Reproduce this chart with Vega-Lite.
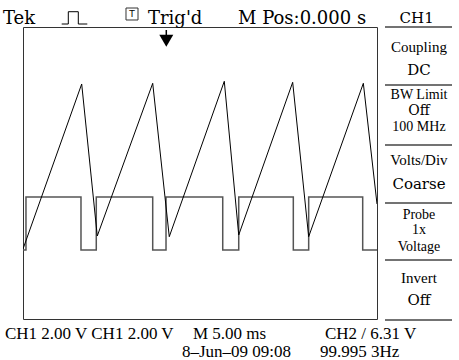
{
  "$schema": "https://vega.github.io/schema/vega-lite/v6.json",
  "width": 354,
  "height": 292,
  "autosize": {"type": "none"},
  "padding": {"left": 23, "top": 27, "right": 82, "bottom": 41},
  "background": "white",
  "config": {"view": {"stroke": "#333", "strokeWidth": 1}},
  "datasets": {
    "saw": [
      {"t": -25, "v": -4.164},
      {"t": -16.71, "v": 4.877},
      {"t": -14.51, "v": -3.452},
      {"t": -6.68, "v": 4.915},
      {"t": -4.34, "v": -3.49},
      {"t": 3.43, "v": 5.025},
      {"t": 5.47, "v": -3.397},
      {"t": 13.09, "v": 4.97},
      {"t": 15.35, "v": -3.49},
      {"t": 23.07, "v": 4.915},
      {"t": 25, "v": -1.699}
    ],
    "square": [
      {"i": 0, "t": -25, "v": -4.219},
      {"i": 1, "t": -24.58, "v": -4.219},
      {"i": 2, "t": -24.58, "v": -1.315},
      {"i": 3, "t": -16.81, "v": -1.315},
      {"i": 4, "t": -16.81, "v": -4.219},
      {"i": 5, "t": -14.65, "v": -4.219},
      {"i": 6, "t": -14.65, "v": -1.315},
      {"i": 7, "t": -6.68, "v": -1.315},
      {"i": 8, "t": -6.68, "v": -4.219},
      {"i": 9, "t": -4.8, "v": -4.219},
      {"i": 10, "t": -4.8, "v": -1.315},
      {"i": 11, "t": 3.21, "v": -1.315},
      {"i": 12, "t": 3.21, "v": -4.219},
      {"i": 13, "t": 5.47, "v": -4.219},
      {"i": 14, "t": 5.47, "v": -1.315},
      {"i": 15, "t": 13.18, "v": -1.315},
      {"i": 16, "t": 13.18, "v": -4.219},
      {"i": 17, "t": 15.35, "v": -4.219},
      {"i": 18, "t": 15.35, "v": -1.315},
      {"i": 19, "t": 22.98, "v": -1.315},
      {"i": 20, "t": 22.98, "v": -4.219},
      {"i": 21, "t": 25, "v": -4.219}
    ],
    "pulse": [
      {"i": 0, "t": -19.534, "v": 8.164},
      {"i": 1, "t": -18.602, "v": 8.164},
      {"i": 2, "t": -18.602, "v": 8.838},
      {"i": 3, "t": -17.189, "v": 8.838},
      {"i": 4, "t": -17.189, "v": 8.164},
      {"i": 5, "t": -15.918, "v": 8.164}
    ],
    "topText": [
      {"label": "Tek", "t": -27.825, "v": 8.164},
      {"label": "Trig'd", "t": -7.345, "v": 8.164},
      {"label": "M Pos:0.000 s", "t": 5.367, "v": 8.164}
    ],
    "seps": [
      {"t": 26.129, "t2": 35.593, "v": 8.0},
      {"t": 26.129, "t2": 35.593, "v": 4.822},
      {"t": 26.129, "t2": 35.593, "v": 1.534},
      {"t": 26.129, "t2": 35.593, "v": -1.644},
      {"t": 26.129, "t2": 35.593, "v": -4.767},
      {"t": 26.129, "t2": 35.593, "v": -8.055}
    ],
    "menuNarrow": [
      {"label": "Coupling", "t": 30.932, "v": 6.63},
      {"label": "Volts/Div", "t": 30.932, "v": 0.438},
      {"label": "Invert", "t": 30.932, "v": -6.027}
    ],
    "menuStack": [
      {"label": "BW Limit", "t": 30.932, "v": 4.055},
      {"label": "100 MHz", "t": 30.932, "v": 2.301},
      {"label": "Probe", "t": 30.932, "v": -2.521},
      {"label": "1x", "t": 30.932, "v": -3.342},
      {"label": "Voltage", "t": 30.932, "v": -4.274}
    ],
    "menuStackWide": [
      {"label": "Off", "t": 30.932, "v": 3.178}
    ],
    "menuWide": [
      {"label": "CH1", "t": 30.6, "v": 8.219},
      {"label": "DC", "t": 30.932, "v": 5.37},
      {"label": "Coarse", "t": 30.932, "v": -0.877},
      {"label": "Off", "t": 30.932, "v": -7.233}
    ],
    "bottomText": [
      {"label": "CH1 2.00 V CH1 2.00 V", "t": -27.542, "v": -9.096},
      {"label": "M 5.00 ms", "t": -0.989, "v": -9.096},
      {"label": "CH2 / 6.31 V", "t": 17.654, "v": -9.096},
      {"label": "8–Jun–09 09:08", "t": -2.543, "v": -10.055},
      {"label": "99.995 3Hz", "t": 16.949, "v": -10.055}
    ]
  },
  "layer": [
    {
      "data": {"name": "square"},
      "mark": {"type": "line", "stroke": "#555", "strokeWidth": 1.5, "clip": true},
      "encoding": {
        "x": {"field": "t", "type": "quantitative", "scale": {"domain": [-25, 25], "nice": false}, "axis": null},
        "y": {"field": "v", "type": "quantitative", "scale": {"domain": [-8, 8], "nice": false}, "axis": null},
        "order": {"field": "i"}
      }
    },
    {
      "data": {"name": "saw"},
      "mark": {"type": "line", "stroke": "#000", "strokeWidth": 1, "clip": true},
      "encoding": {
        "x": {"field": "t", "type": "quantitative", "scale": {"domain": [-25, 25], "nice": false}, "axis": null},
        "y": {"field": "v", "type": "quantitative", "scale": {"domain": [-8, 8], "nice": false}, "axis": null}
      }
    },
    {
      "data": {"name": "pulse"},
      "mark": {"type": "line", "stroke": "#000", "strokeWidth": 1},
      "encoding": {
        "x": {"field": "t", "type": "quantitative", "scale": {"domain": [-25, 25], "nice": false}, "axis": null},
        "y": {"field": "v", "type": "quantitative", "scale": {"domain": [-8, 8], "nice": false}, "axis": null},
        "order": {"field": "i"}
      }
    },
    {
      "data": {"values": [{"t": -10.452, "t2": -8.757, "v": 9.041, "v2": 8.384}]},
      "mark": {"type": "rect", "fill": "white", "stroke": "#333", "strokeWidth": 1},
      "encoding": {
        "x": {"field": "t", "type": "quantitative", "scale": {"domain": [-25, 25], "nice": false}, "axis": null},
        "x2": {"field": "t2"},
        "y": {"field": "v", "type": "quantitative", "scale": {"domain": [-8, 8], "nice": false}, "axis": null},
        "y2": {"field": "v2"}
      }
    },
    {
      "data": {"values": [{"label": "T", "t": -9.605, "v": 8.712}]},
      "mark": {"type": "text", "font": "DejaVu Sans", "fontSize": 9, "align": "center", "baseline": "middle", "color": "#000"},
      "encoding": {
        "x": {"field": "t", "type": "quantitative", "scale": {"domain": [-25, 25], "nice": false}, "axis": null},
        "y": {"field": "v", "type": "quantitative", "scale": {"domain": [-8, 8], "nice": false}, "axis": null},
        "text": {"field": "label"}
      }
    },
    {
      "data": {"values": [{"t": -4.76, "v": 7.836, "v2": 7.397}]},
      "mark": {"type": "rule", "stroke": "#000", "strokeWidth": 1.5},
      "encoding": {
        "x": {"field": "t", "type": "quantitative", "scale": {"domain": [-25, 25], "nice": false}, "axis": null},
        "y": {"field": "v", "type": "quantitative", "scale": {"domain": [-8, 8], "nice": false}, "axis": null},
        "y2": {"field": "v2"}
      }
    },
    {
      "data": {"values": [{"t": -4.76, "v": 7.249}]},
      "mark": {"type": "point", "shape": "triangle-down", "size": 196, "filled": true, "color": "#000", "opacity": 1},
      "encoding": {
        "x": {"field": "t", "type": "quantitative", "scale": {"domain": [-25, 25], "nice": false}, "axis": null},
        "y": {"field": "v", "type": "quantitative", "scale": {"domain": [-8, 8], "nice": false}, "axis": null}
      }
    },
    {
      "data": {"name": "topText"},
      "mark": {"type": "text", "font": "DejaVu Serif", "fontSize": 18, "align": "left", "baseline": "alphabetic", "color": "#000"},
      "encoding": {
        "x": {"field": "t", "type": "quantitative", "scale": {"domain": [-25, 25], "nice": false}, "axis": null},
        "y": {"field": "v", "type": "quantitative", "scale": {"domain": [-8, 8], "nice": false}, "axis": null},
        "text": {"field": "label"}
      }
    },
    {
      "data": {"name": "seps"},
      "mark": {"type": "rule", "stroke": "#444", "strokeWidth": 1.5},
      "encoding": {
        "x": {"field": "t", "type": "quantitative", "scale": {"domain": [-25, 25], "nice": false}, "axis": null},
        "x2": {"field": "t2"},
        "y": {"field": "v", "type": "quantitative", "scale": {"domain": [-8, 8], "nice": false}, "axis": null}
      }
    },
    {
      "data": {"name": "menuNarrow"},
      "mark": {"type": "text", "font": "Liberation Serif", "fontSize": 15, "align": "center", "baseline": "alphabetic", "color": "#000"},
      "encoding": {
        "x": {"field": "t", "type": "quantitative", "scale": {"domain": [-25, 25], "nice": false}, "axis": null},
        "y": {"field": "v", "type": "quantitative", "scale": {"domain": [-8, 8], "nice": false}, "axis": null},
        "text": {"field": "label"}
      }
    },
    {
      "data": {"name": "menuStack"},
      "mark": {"type": "text", "font": "Liberation Serif", "fontSize": 14, "align": "center", "baseline": "alphabetic", "color": "#000"},
      "encoding": {
        "x": {"field": "t", "type": "quantitative", "scale": {"domain": [-25, 25], "nice": false}, "axis": null},
        "y": {"field": "v", "type": "quantitative", "scale": {"domain": [-8, 8], "nice": false}, "axis": null},
        "text": {"field": "label"}
      }
    },
    {
      "data": {"name": "menuStackWide"},
      "mark": {"type": "text", "font": "DejaVu Serif", "fontSize": 14, "align": "center", "baseline": "alphabetic", "color": "#000"},
      "encoding": {
        "x": {"field": "t", "type": "quantitative", "scale": {"domain": [-25, 25], "nice": false}, "axis": null},
        "y": {"field": "v", "type": "quantitative", "scale": {"domain": [-8, 8], "nice": false}, "axis": null},
        "text": {"field": "label"}
      }
    },
    {
      "data": {"name": "menuWide"},
      "mark": {"type": "text", "font": "DejaVu Serif", "fontSize": 15, "align": "center", "baseline": "alphabetic", "color": "#000"},
      "encoding": {
        "x": {"field": "t", "type": "quantitative", "scale": {"domain": [-25, 25], "nice": false}, "axis": null},
        "y": {"field": "v", "type": "quantitative", "scale": {"domain": [-8, 8], "nice": false}, "axis": null},
        "text": {"field": "label"}
      }
    },
    {
      "data": {"name": "bottomText"},
      "mark": {"type": "text", "font": "Liberation Serif", "fontSize": 17, "align": "left", "baseline": "alphabetic", "color": "#000"},
      "encoding": {
        "x": {"field": "t", "type": "quantitative", "scale": {"domain": [-25, 25], "nice": false}, "axis": null},
        "y": {"field": "v", "type": "quantitative", "scale": {"domain": [-8, 8], "nice": false}, "axis": null},
        "text": {"field": "label"}
      }
    }
  ]
}
